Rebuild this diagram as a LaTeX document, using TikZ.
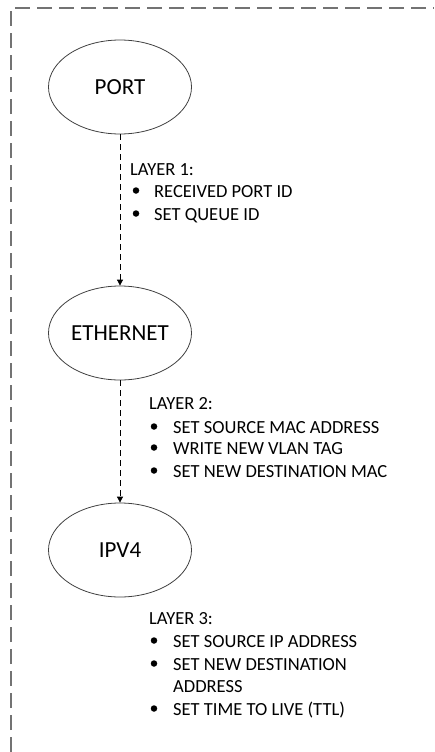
\documentclass[tikz,border=0pt]{standalone}
\usepackage{fontspec}
\setmainfont{Carlito}
\usetikzlibrary{shapes.geometric,arrows.meta}

\tikzset{
  layer/.style={ellipse, draw=black!75, line width=0.8pt, minimum width=143pt, minimum height=94pt, inner sep=0pt, font=\fontsize{23}{28}\selectfont},
  flow/.style={line width=0.8pt, dash pattern=on 6pt off 4pt, -{Triangle[length=6pt,width=6pt]}},
  item/.style={anchor=base west, inner sep=0pt, font=\fontsize{18.5}{22.5}\selectfont},
  dot/.style={circle, fill=black, inner sep=0pt, minimum size=6.5pt},
}

\begin{document}
\begin{tikzpicture}[x=1pt,y=-1pt]
\useasboundingbox (0,0) rectangle (434,752);
\draw[black!55, line width=1.3pt, dash pattern=on 15pt off 7pt] (11,752) -- (11,8) -- (434,8);

\node[layer] (port) at (120,87) {PORT};
\node[layer] (eth) at (120,333) {ETHERNET};
\node[layer] (ipv4) at (120,550) {IPV4};

\draw[flow] (port) -- (eth);
\draw[flow] (eth) -- (ipv4);

% layer 1
\node[item] (h1) at (130,175) {LAYER 1:};
\node[dot] (b11) at (136,190.5) {};
\node[item] (t11) at (154,197) {RECEIVED PORT ID};
\node[dot] (b12) at (136,213.5) {};
\node[item] (t12) at (154,220) {SET QUEUE ID};

% layer 2
\node[item] (h2) at (149,409) {LAYER 2:};
\node[dot] (b21) at (154,426.5) {};
\node[item] (t21) at (173,433) {SET SOURCE MAC ADDRESS};
\node[dot] (b22) at (154,447.5) {};
\node[item] (t22) at (173,454) {WRITE NEW VLAN TAG};
\node[dot] (b23) at (154,470.5) {};
\node[item] (t23) at (173,477) {SET NEW DESTINATION MAC};

% layer 3
\node[item] (h3) at (149,624) {LAYER 3:};
\node[dot] (b31) at (154,640.5) {};
\node[item] (t31) at (173,647) {SET SOURCE IP ADDRESS};
\node[dot] (b32) at (154,663.5) {};
\node[item] (t32) at (173,670) {SET NEW DESTINATION};
\node[item] (t33) at (173,692) {ADDRESS};
\node[dot] (b34) at (154,708.5) {};
\node[item] (t34) at (173,715) {SET TIME TO LIVE (TTL)};
\end{tikzpicture}
\end{document}
